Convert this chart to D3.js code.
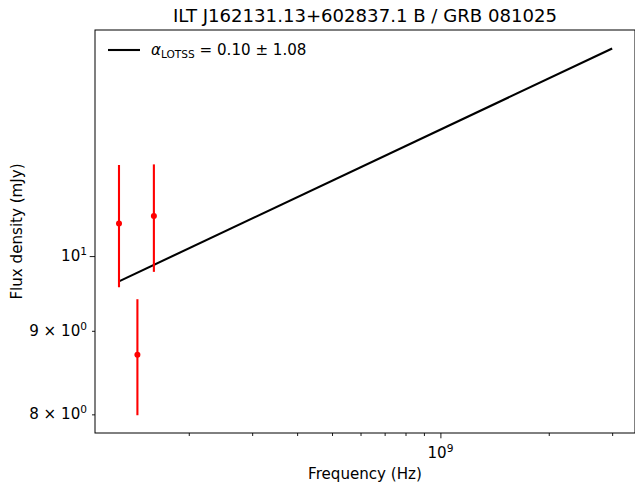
<!DOCTYPE html>
<html>
<head>
<meta charset="utf-8">
<script src="https://cdn.jsdelivr.net/npm/d3@7"></script>
<style>
  body { margin: 0; background: #fff; }
  svg { font-family: "DejaVu Sans", sans-serif; }
</style>
</head>
<body>
<svg width="635" height="489"></svg>
<script>
// measured flux densities (LoTSS sub-bands)
var freqs = [1.28e8, 1.44e8, 1.60e8];
var flux = [10.47, 8.70, 10.58];
var fluxErr = [0.90, 0.71, 0.80];

// fitted power law, endpoints
var fitFreq = [1.28e8, 3.0e9];
var fitFlux = [9.65, 13.40];

var xMajor = [1e9];
var xMinor = [2e8, 3e8, 4e8, 5e8, 6e8, 7e8, 8e8, 9e8, 2e9, 3e9];
var yMajor = [10];
var yMinor = [8, 9];

var svg = d3.select("svg"),
    mLeft = 95, mRight = 635, mTop = 30, mBottom = 433;

var fs = "15.1px", fsSup = "10.6px";

var x = d3.scaleLog().domain([1.0979e8, 3.472e9]).range([mLeft, mRight]);
var y = d3.scaleLog().domain([7.7924, 13.754]).range([mBottom, mTop]);

// title
svg.append("text")
    .attr("x", (mLeft + mRight) / 2).attr("y", 22)
    .attr("text-anchor", "middle")
    .attr("font-size", "18.1px")
    .text("ILT J162131.13+602837.1 B / GRB 081025");

// axes
var xAx = svg.append("g").attr("transform", "translate(0," + mBottom + ")");
xAx.call(d3.axisBottom(x).tickValues(xMinor).tickSize(3).tickFormat(""));
var xAx2 = svg.append("g").attr("transform", "translate(0," + mBottom + ")");
xAx2.call(d3.axisBottom(x).tickValues(xMajor).tickSize(5.3).tickFormat(""));

var yAx = svg.append("g").attr("transform", "translate(" + mLeft + ",0)");
yAx.call(d3.axisLeft(y).tickValues(yMinor).tickSize(3).tickFormat(""));
var yAx2 = svg.append("g").attr("transform", "translate(" + mLeft + ",0)");
yAx2.call(d3.axisLeft(y).tickValues(yMajor).tickSize(5.3).tickFormat(""));

svg.selectAll(".domain").remove();
svg.selectAll(".tick line").attr("stroke", "#000").attr("stroke-width", 0.9);

// spines
svg.append("rect")
    .attr("x", mLeft).attr("y", mTop)
    .attr("width", mRight - mLeft).attr("height", mBottom - mTop)
    .attr("fill", "none").attr("stroke", "#000").attr("stroke-width", 1);

// tick labels
xMajor.forEach(function (v) {
    var t = svg.append("text")
        .attr("x", x(v)).attr("y", 458)
        .attr("text-anchor", "middle")
        .attr("font-size", fs);
    t.append("tspan").text("10");
    t.append("tspan").attr("dy", -6).attr("font-size", fsSup).text(Math.round(Math.log10(v)));
});
yMajor.forEach(function (v) {
    var t = svg.append("text")
        .attr("x", 87).attr("y", y(v) + 5)
        .attr("text-anchor", "end")
        .attr("font-size", fs);
    t.append("tspan").text("10");
    t.append("tspan").attr("dy", -6).attr("font-size", fsSup).text("1");
});
yMinor.forEach(function (v) {
    var t = svg.append("text")
        .attr("x", 87).attr("y", y(v) + 5)
        .attr("text-anchor", "end")
        .attr("font-size", fs);
    t.append("tspan").text(v + " \u00d7 10");
    t.append("tspan").attr("dy", -6).attr("font-size", fsSup).text("0");
});

// axis labels
svg.append("text")
    .attr("x", (mLeft + mRight) / 2).attr("y", 479)
    .attr("text-anchor", "middle")
    .attr("font-size", fs)
    .text("Frequency (Hz)");
svg.append("text")
    .attr("transform", "translate(22," + ((mTop + mBottom) / 2) + ") rotate(-90)")
    .attr("text-anchor", "middle")
    .attr("font-size", fs)
    .text("Flux density (mJy)");

// fit line
var fitData = fitFreq.map(function (f, i) { return [f, fitFlux[i]]; });
svg.append("path")
    .datum(fitData)
    .attr("fill", "none").attr("stroke", "#000").attr("stroke-width", 2.1)
    .attr("d", d3.line().x(d => x(d[0])).y(d => y(d[1])));

// error bars + points
var pts = freqs.map(function (f, i) { return { f: f, s: flux[i], e: fluxErr[i] }; });
svg.append("g").selectAll("line")
    .data(pts).enter().append("line")
    .attr("x1", d => x(d.f)).attr("x2", d => x(d.f))
    .attr("y1", d => y(d.s - d.e)).attr("y2", d => y(d.s + d.e))
    .attr("stroke", "red").attr("stroke-width", 2.1);
svg.append("g").selectAll("circle")
    .data(pts).enter().append("circle")
    .attr("cx", d => x(d.f)).attr("cy", d => y(d.s))
    .attr("r", 3).attr("fill", "red");

// legend
svg.append("line")
    .attr("x1", 108).attr("x2", 140).attr("y1", 50).attr("y2", 50)
    .attr("stroke", "#000").attr("stroke-width", 2.1);
var lg = svg.append("text").attr("x", 151).attr("y", 55).attr("font-size", fs);
lg.append("tspan").attr("font-style", "italic").text("\u03b1");
lg.append("tspan").attr("dy", 3).attr("font-size", fsSup).text("LOTSS");
lg.append("tspan").attr("dy", -3).text(" = 0.10 \u00b1 1.08");
</script>
</body>
</html>
